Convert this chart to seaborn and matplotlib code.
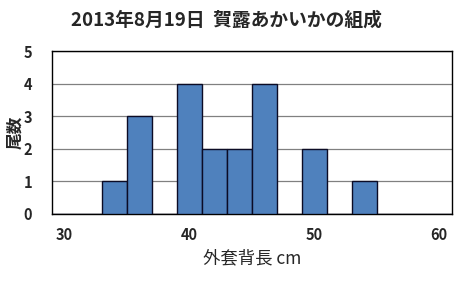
import matplotlib
matplotlib.use("Agg")
import matplotlib.pyplot as plt
import seaborn as sns
import numpy as np

# data
categories = [str(v) for v in range(30, 62, 2)]
counts = [0, 0, 1, 3, 0, 4, 2, 2, 4, 0, 2, 0, 1, 0, 0, 0]
shown_labels = ["30", "40", "50", "60"]
title = "2013年8月19日  賀露あかいかの組成"
xlabel = "外套背長 cm"
ylabel = "尾数"

sns.set_style("white")
plt.rcParams["font.family"] = ["Noto Sans CJK JP", "DejaVu Sans"]

fig = plt.figure(figsize=(4.62, 2.86), dpi=100)
ax = fig.add_axes([51.7 / 462, 1 - 214 / 286, 400 / 462, (214 - 51) / 286])

sns.barplot(x=categories, y=counts, order=categories, color="#4F81BD",
            width=1.0, edgecolor="#0b0b25", linewidth=1.0, saturation=1,
            ax=ax, zorder=3)

ax.set_xlim(-0.5, len(categories) - 0.5)
ax.set_ylim(0, 5)
ax.set_yticks(range(0, 6))
ax.yaxis.grid(True, color="#808080", linewidth=0.9, zorder=0)
ax.set_axisbelow(True)

ax.set_xticks(range(len(categories)))
ax.set_xticklabels([c if c in shown_labels else "" for c in categories],
                   fontsize=10.5, fontweight="bold")
ax.set_xticks(np.arange(-0.5, len(categories), 1.0), minor=True)
ax.tick_params(axis="x", which="major", length=0, pad=9)
ax.tick_params(axis="x", which="minor", direction="in", length=5, width=1, color="black")
ax.tick_params(axis="y", which="major", length=0, pad=14, labelsize=10.5)
for lab in ax.get_yticklabels():
    lab.set_fontweight("bold")

for s in ax.spines.values():
    s.set_visible(True)
    s.set_color("black")
    s.set_linewidth(1.0)

ax.set_xlabel(xlabel, fontsize=12.5, labelpad=5)
ax.set_ylabel(ylabel, fontsize=12, fontweight="bold", va="center")
ax.yaxis.set_label_coords((15 - 51.7) / 400, 0.5)
fig.text(226 / 462, 1 - 20 / 286, title, ha="center", va="center",
         fontsize=13.5, fontweight="bold")

fig.savefig("out.png", dpi=100)
